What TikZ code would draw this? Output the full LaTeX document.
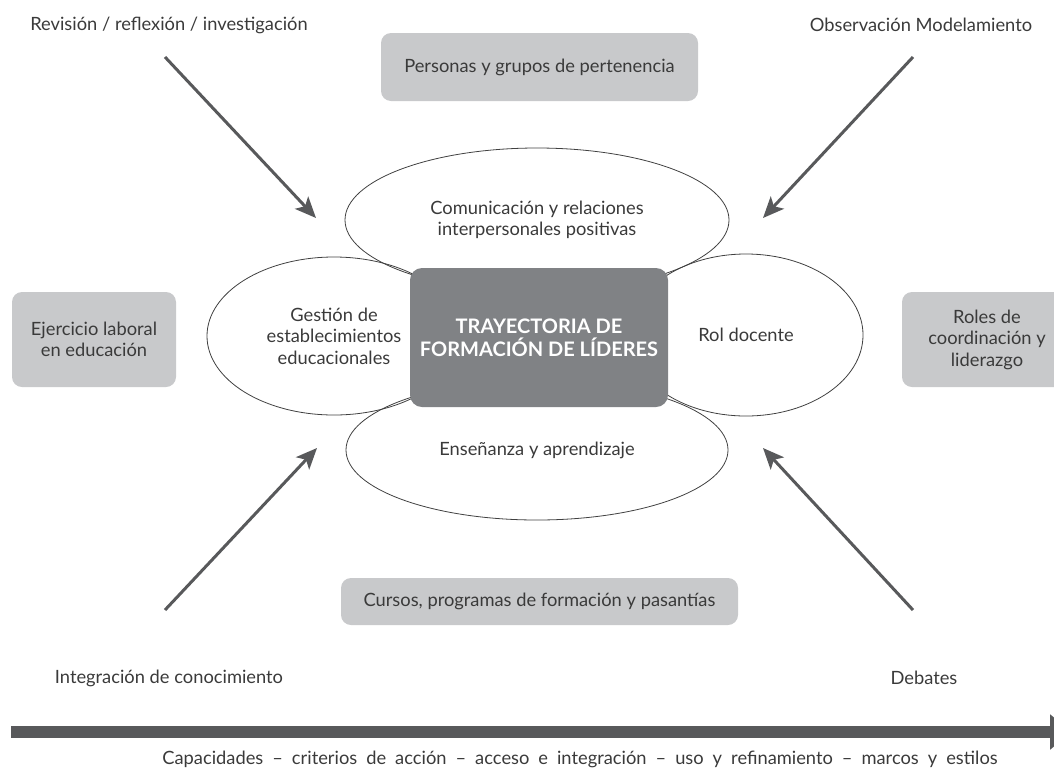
\documentclass[tikz,border=0pt]{standalone}
\usepackage{fontspec}
\setmainfont{Lato}
\usetikzlibrary{shapes.geometric,arrows.meta}
\definecolor{darkbox}{HTML}{808285}
\definecolor{lightbox}{HTML}{C8C9CB}
\definecolor{arrowgray}{HTML}{58595B}
\definecolor{txtgray}{HTML}{3A3A3A}

\begin{document}
\begin{tikzpicture}[x=1pt,y=-1pt,
		every node/.style={font=\fontsize{18.3}{21.5}\selectfont,text=txtgray,align=center},
		area/.style={draw=black!75,line width=0.8pt,shape=ellipse,inner sep=0pt},
		core/.style={fill=darkbox,rounded corners=12pt,minimum width=258pt,minimum height=139pt,text=white,font=\fontsize{20}{23}\selectfont\bfseries},
		context/.style={fill=lightbox,rounded corners=10pt,inner sep=0pt},
		flow/.style={draw=arrowgray,line width=3pt,-{Stealth[length=21pt,width=18pt,inset=5pt]}}]
		\clip (0,0) rectangle (1054,772);

		% the four areas round the centre
		\path (537,220) node[area,minimum width=384pt,minimum height=144pt] (com) {Comunicación y relaciones\\interpersonales positivas}
		(334,336) node[area,minimum width=254pt,minimum height=158pt] (gest) {Gestión de\\establecimientos\\educacionales}
		(746,335) node[area,minimum width=234pt,minimum height=162pt] (rol) {Rol docente}
		(537,450) node[area,minimum width=382pt,minimum height=140pt] (ens) {Enseñanza y aprendizaje};

		\path (539,337.5) node[core] (tray) {TRAYECTORIA DE\\FORMACIÓN DE LÍDERES};

		% contexts
		\path (539.5,67) node[context,minimum width=317pt,minimum height=68pt] (pers) {Personas y grupos de pertenencia}
		(539.5,601.5) node[context,minimum width=397pt,minimum height=47pt] (curs) {Cursos, programas de formación y pasantías}
		(94,339.5) node[context,minimum width=164pt,minimum height=95pt] (ejer) {Ejercicio laboral\\en educación}
		(987,339.5) node[context,minimum width=170pt,minimum height=95pt] (roles) {Roles de\\coordinación y\\liderazgo};

		% processes
		\path (169,25) node (rev) {Revisión / reflexión / investigación}
		(921,25) node (obs) {Observación Modelamiento}
		(169,678) node (integ) {Integración de conocimiento}
		(924,678) node (deb) {Debates}
		(580,759) node (cap) {\spaceskip=9pt plus 1pt Capacidades -- criterios de acción -- acceso e integración -- uso y refinamiento -- marcos y estilos};

		\path (165,57) coordinate (a1) (316,218) coordinate (b1)
		(913,57) coordinate (a2) (763,218) coordinate (b2)
		(165,610) coordinate (a3) (317,448) coordinate (b3)
		(913,610) coordinate (a4) (763,448) coordinate (b4)
		(11,732) coordinate (s0) (1072,732) coordinate (s1);

		\draw[flow] (a1) -- (b1);
		\draw[flow] (a2) -- (b2);
		\draw[flow] (a3) -- (b3);
		\draw[flow] (a4) -- (b4);

		\draw[arrowgray,line width=12pt,-{Triangle[length=22pt,width=34pt]}] (s0) -- (s1);

	\end{tikzpicture}
\end{document}
